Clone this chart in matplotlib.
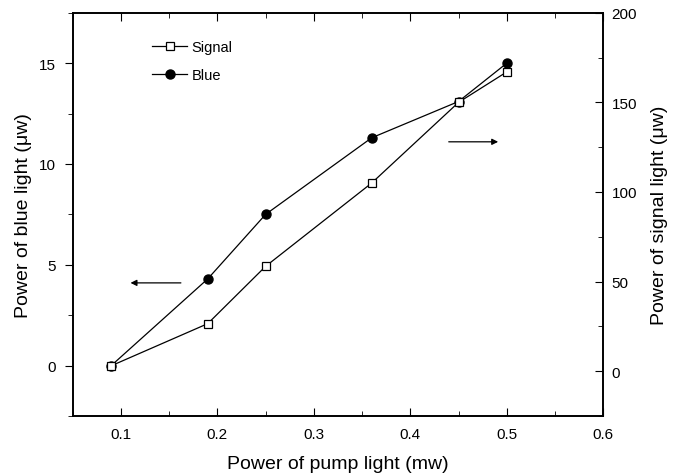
import matplotlib.pyplot as plt
from matplotlib.ticker import MultipleLocator

plt.rcParams['font.family'] = ['Liberation Sans', 'DejaVu Sans']

# data
pump = [0.09, 0.19, 0.25, 0.36, 0.45, 0.50]
blue = [0.0, 4.3, 7.5, 11.3, 13.1, 15.0]        # left axis, uW
signal = [3.0, 26.5, 58.5, 105.0, 150.0, 167.0]  # right axis, uW

fig = plt.figure(figsize=(6.8, 4.77), dpi=100)
ax = fig.add_axes([0.107, 0.126, 0.78, 0.845])
ax2 = ax.twinx()

ax.plot(pump, blue, color='black', lw=0.9, marker='o', ms=6.5,
        mfc='black', mec='black', label='Blue')
ax2.plot(pump, signal, color='black', lw=0.9, marker='s', ms=6,
         mfc='white', mec='black', mew=0.9, label='Signal')

ax.set_xlim(0.05, 0.6)
ax.set_ylim(-2.5, 17.5)
ax2.set_ylim(-25, 200)

ax.xaxis.set_major_locator(MultipleLocator(0.1))
ax.xaxis.set_minor_locator(MultipleLocator(0.05))
ax.yaxis.set_major_locator(MultipleLocator(5))
ax.yaxis.set_minor_locator(MultipleLocator(2.5))
ax2.yaxis.set_major_locator(MultipleLocator(50))
ax2.yaxis.set_minor_locator(MultipleLocator(25))
ax.set_xticks([0.1, 0.2, 0.3, 0.4, 0.5, 0.6])
ax.set_xticklabels(['0.1', '0.2', '0.3', '0.4', '0.5', '0.6'])

ax.tick_params(axis='x', which='both', direction='in', top=True, labelsize=11, pad=8)
ax.tick_params(axis='x', which='major', length=6)
ax.tick_params(axis='x', which='minor', length=3.5)
ax.tick_params(axis='y', which='major', direction='out', length=6, labelsize=11, pad=6)
ax.tick_params(axis='y', which='minor', direction='out', length=3.5)
ax2.tick_params(axis='y', which='major', direction='in', length=6, labelsize=11, pad=6)
ax2.tick_params(axis='y', which='minor', direction='in', length=3.5)

for a in (ax, ax2):
    for s in a.spines.values():
        s.set_linewidth(1.2)

ax.set_xlabel('Power of pump light (mw)', fontsize=14, labelpad=10)
ax.set_ylabel('Power of blue light (\u03bcw)', fontsize=14, labelpad=5)
ax2.set_ylabel('Power of signal light (\u03bcw)', fontsize=14, labelpad=10)

# arrows pointing to the matching axis
ax.annotate('', xy=(0.107, 4.1), xytext=(0.165, 4.1),
            arrowprops=dict(arrowstyle='-|>', color='black', lw=0.9, mutation_scale=9))
ax.annotate('', xy=(0.494, 11.1), xytext=(0.437, 11.1),
            arrowprops=dict(arrowstyle='-|>', color='black', lw=0.9, mutation_scale=9))

h1, l1 = ax.get_legend_handles_labels()
h2, l2 = ax2.get_legend_handles_labels()
ax2.legend(h2 + h1, l2 + l1, loc='upper left', bbox_to_anchor=(0.125, 0.965),
           frameon=False, fontsize=10.5, handlelength=2.4, handletextpad=0.3,
           labelspacing=0.95)

fig.savefig('out.png', dpi=100)
